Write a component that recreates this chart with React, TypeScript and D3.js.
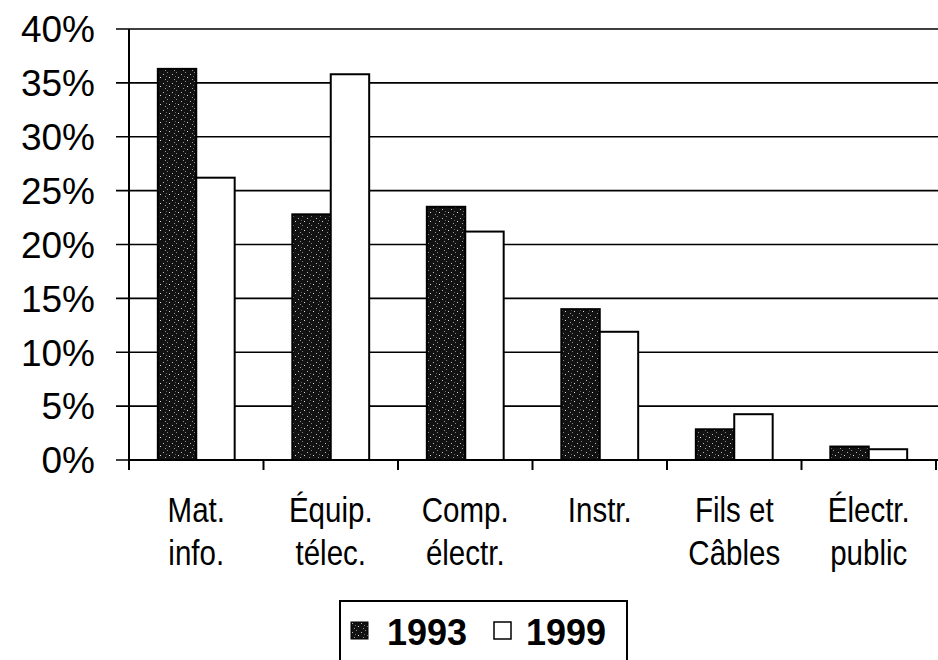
import React from 'react';
import * as d3 from 'd3';

// categories (two-line labels) and shares per year, in %
const categories = ['Mat. info.', 'Équip. télec.', 'Comp. électr.', 'Instr.', 'Fils et Câbles', 'Électr. public'];
const categoryLines = [['Mat.', 'info.'], ['Équip.', 'télec.'], ['Comp.', 'électr.'], ['Instr.'], ['Fils et', 'Câbles'], ['Électr.', 'public']];
const years = ['1993', '1999'];
const values1993 = [36.3, 22.8, 23.5, 14.0, 2.85, 1.25];
const values1999 = [26.2, 35.8, 21.2, 11.9, 4.25, 1.0];
const yTicks = [0, 5, 10, 15, 20, 25, 30, 35, 40];

const W = 938;
const H = 660;
const plot = { left: 129, right: 936, top: 29, bottom: 460 };
const FONT = '"Liberation Sans", Arial, Helvetica, sans-serif';

const App: React.FC = () => {
  const x0 = d3.scaleBand<string>().domain(categories).range([plot.left, plot.right]).padding(0);
  const x1 = d3.scaleBand<string>().domain(years).range([0, x0.bandwidth()]).paddingInner(0).paddingOuter(0.75);
  const y = d3.scaleLinear().domain([0, 40]).range([plot.bottom, plot.top]);

  const series = [
    { year: '1993', values: values1993, fill: 'url(#speckle)' },
    { year: '1999', values: values1999, fill: '#ffffff' },
  ];

  const boundaries = categories.map(c => x0(c) as number).concat([plot.right]);

  return (
    <svg width={W} height={H} style={{ position: 'absolute', left: 0, top: 0, background: '#fff' }}>
      <defs>
        <pattern id="speckle" width="9" height="9" patternUnits="userSpaceOnUse">
          <rect width="9" height="9" fill="#121212" />
          <rect x="1" y="2" width="1" height="1" fill="#bbb" />
          <rect x="5" y="0" width="1" height="1" fill="#888" />
          <rect x="7" y="5" width="1" height="1" fill="#ddd" />
          <rect x="3" y="7" width="1" height="1" fill="#999" />
          <rect x="4" y="4" width="1" height="1" fill="#666" />
        </pattern>
      </defs>

      {/* gridlines + y ticks */}
      {yTicks.map(t => (
        <g key={t}>
          <line x1={plot.left - 13} x2={W} y1={y(t)} y2={y(t)} stroke="#000" strokeWidth={1.6} />
          <text x={95} y={y(t)} dy="0.36em" textAnchor="end" fontFamily={FONT} fontSize={37} fill="#000">
            {t}%
          </text>
        </g>
      ))}

      {/* bars */}
      {series.map(s => (
        <g key={s.year}>
          {categories.map((c, i) => (
            <rect
              key={c}
              x={(x0(c) as number) + (x1(s.year) as number)}
              y={y(s.values[i])}
              width={x1.bandwidth()}
              height={y(0) - y(s.values[i])}
              fill={s.fill}
              stroke="#000"
              strokeWidth={2}
            />
          ))}
        </g>
      ))}

      {/* axes */}
      <line x1={plot.left} x2={plot.left} y1={plot.top} y2={plot.bottom} stroke="#000" strokeWidth={2} />
      <line x1={plot.left} x2={W} y1={plot.bottom} y2={plot.bottom} stroke="#000" strokeWidth={2} />
      {boundaries.map((b, i) => (
        <line key={i} x1={b} x2={b} y1={plot.bottom} y2={plot.bottom + 10} stroke="#000" strokeWidth={2} />
      ))}

      {/* category labels */}
      {categories.map((c, i) => {
        const cx = (x0(c) as number) + x0.bandwidth() / 2;
        return (
          <g key={c} transform={`translate(${cx},0) scale(0.82,1)`}>
            {categoryLines[i].map((line, j) => (
              <text key={j} x={0} y={522 + j * 43} textAnchor="middle" fontFamily={FONT} fontSize={36} fill="#000">
                {line}
              </text>
            ))}
          </g>
        );
      })}

      {/* legend */}
      <rect x={340} y={601} width={287} height={70} fill="#fff" stroke="#000" strokeWidth={2} />
      <rect x={351} y={622} width={17} height={17} fill="url(#speckle)" stroke="#000" strokeWidth={1} />
      <text x={387} y={645} fontFamily={FONT} fontSize={36} fontWeight="bold" fill="#000">1993</text>
      <rect x={494} y={622} width={17} height={17} fill="#fff" stroke="#000" strokeWidth={1.5} />
      <text x={526} y={645} fontFamily={FONT} fontSize={36} fontWeight="bold" fill="#000">1999</text>
    </svg>
  );
};

export default App;
